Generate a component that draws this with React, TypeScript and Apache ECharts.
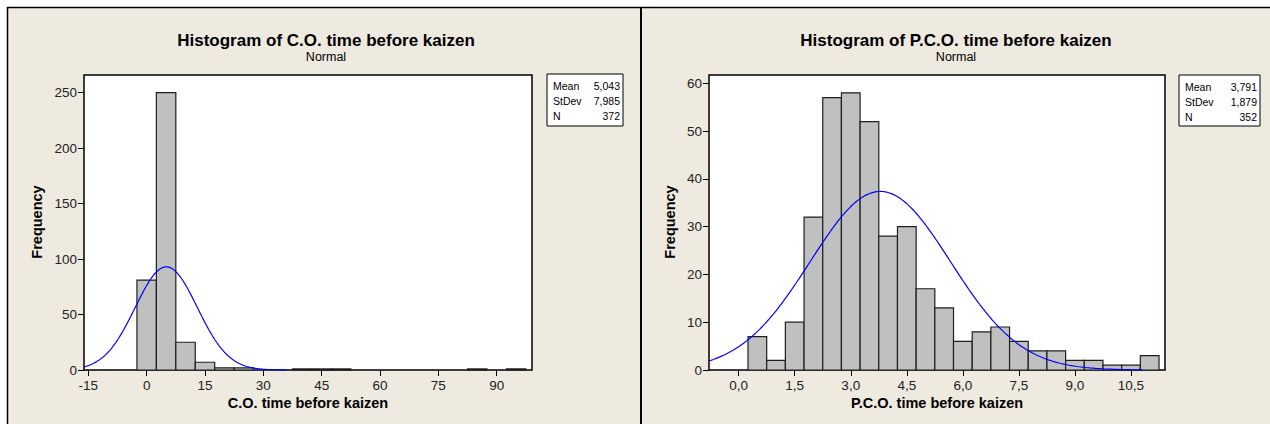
import React, { useEffect, useRef } from "react";
import * as echarts from "echarts";

const FONT = '"Liberation Sans", Arial, sans-serif';

// C.O. time before kaizen: bin midpoints (width 5) and frequencies
const coBinCenters = [0, 5, 10, 15, 20, 25, 40, 45, 50, 85, 95];
const coCounts = [81, 250, 25, 7, 2, 2, 1, 1, 1, 1, 1];
const coBinWidth = 5;
const coMean = 5.043;
const coStDev = 7.985;
const coN = 372;
const coXTicks = [-15, 0, 15, 30, 45, 60, 75, 90];
const coYTicks = [0, 50, 100, 150, 200, 250];

// P.C.O. time before kaizen: bin midpoints (width 0.5) and frequencies
const pcoBinCenters = [
  0.5, 1.0, 1.5, 2.0, 2.5, 3.0, 3.5, 4.0, 4.5, 5.0, 5.5,
  6.0, 6.5, 7.0, 7.5, 8.0, 8.5, 9.0, 9.5, 10.0, 10.5, 11.0,
];
const pcoCounts = [
  7, 2, 10, 32, 57, 58, 52, 28, 30, 17, 13,
  6, 8, 9, 6, 4, 4, 2, 2, 1, 1, 3,
];
const pcoBinWidth = 0.5;
const pcoMean = 3.791;
const pcoStDev = 1.879;
const pcoN = 352;
const pcoXTicks = [0, 1.5, 3, 4.5, 6, 7.5, 9, 10.5];
const pcoYTicks = [0, 10, 20, 30, 40, 50, 60];

const comma = (v: number, d: number) => v.toFixed(d).replace(".", ",");

// Fitted normal density scaled to counts per bin
function normalCurve(mean: number, sd: number, n: number, bw: number, x0: number, x1: number) {
  const pts: number[][] = [];
  const steps = 240;
  for (let i = 0; i <= steps; i++) {
    const x = x0 + ((x1 - x0) * i) / steps;
    const z = (x - mean) / sd;
    pts.push([x, (n * bw * Math.exp(-0.5 * z * z)) / (sd * Math.sqrt(2 * Math.PI))]);
  }
  return pts;
}

function binRects(centers: number[], counts: number[], bw: number) {
  return centers.map((c, i) => [c - bw / 2, c + bw / 2, counts[i]]);
}

const renderBar = (_params: any, api: any) => {
  const p0 = api.coord([api.value(0), api.value(2)]);
  const p1 = api.coord([api.value(1), 0]);
  return {
    type: "rect",
    shape: { x: p0[0], y: p0[1], width: p1[0] - p0[0], height: p1[1] - p0[1] },
    style: { fill: "#c0c0c0", stroke: "#1e1e1e", lineWidth: 1.2 },
  };
};

function makeXAxis(gridIndex: number, min: number, max: number, ticks: number[], fmt: (v: number) => string) {
  return {
    gridIndex,
    type: "value",
    position: "bottom",
    min,
    max,
    axisLine: { show: false, onZero: false },
    splitLine: { show: false },
    axisTick: { show: true, customValues: ticks, length: 6, lineStyle: { color: "#000", width: 1 } },
    axisLabel: { customValues: ticks, margin: 8, fontSize: 13.5, color: "#222", fontFamily: FONT, formatter: fmt },
  };
}

function makeYAxis(gridIndex: number, max: number, ticks: number[]) {
  return {
    gridIndex,
    type: "value",
    position: "left",
    min: 0,
    max,
    axisLine: { show: false, onZero: false },
    splitLine: { show: false },
    axisTick: { show: true, customValues: ticks, length: 6, lineStyle: { color: "#000", width: 1 } },
    axisLabel: { customValues: ticks, margin: 7, fontSize: 13.5, color: "#222", fontFamily: FONT },
  };
}

function txt(x: number, y: number, text: string, font: string, align = "center", rotation = 0) {
  return {
    type: "text",
    x,
    y,
    rotation,
    silent: true,
    z: 10,
    style: {
      text,
      x: 0,
      y: 0,
      font,
      fill: "#000",
      align,
      verticalAlign: "middle",
      textAlign: align,
      textVerticalAlign: "middle",
    },
  };
}

function statsBox(x: number, y: number, w: number, h: number, mean: string, sd: string, n: string) {
  const f = `10.5px ${FONT}`;
  const lx = x + 6;
  const rx = x + w - 3;
  return [
    { type: "rect", silent: true, z: 9, shape: { x, y, width: w, height: h }, style: { fill: "#fff", stroke: "#000", lineWidth: 1 } },
    txt(lx, y + 12, "Mean", f, "left"),
    txt(rx, y + 12, mean, f, "right"),
    txt(lx, y + 27, "StDev", f, "left"),
    txt(rx, y + 27, sd, f, "right"),
    txt(lx, y + 42, "N", f, "left"),
    txt(rx, y + 42, n, f, "right"),
  ];
}

export default function App() {
  const ref = useRef<HTMLDivElement>(null);

  useEffect(() => {
    if (!ref.current) return;
    const chart = echarts.init(ref.current, null, { renderer: "svg" });

    const titleFont = `bold 17px ${FONT}`;
    const subFont = `12.5px ${FONT}`;
    const axisTitleFont = `bold 14.5px ${FONT}`;

    const option: any = {
      animation: false,
      backgroundColor: "#ffffff",
      grid: [
        { left: 84, top: 75, width: 448, height: 295, show: true, backgroundColor: "#fff", borderColor: "#000", borderWidth: 1.5 },
        { left: 709, top: 75, width: 456, height: 295, show: true, backgroundColor: "#fff", borderColor: "#000", borderWidth: 1.5 },
      ],
      xAxis: [
        makeXAxis(0, -16.11, 99.08, coXTicks, (v: number) => String(v)),
        makeXAxis(1, -0.794, 11.41, pcoXTicks, (v: number) => comma(v, 1)),
      ],
      yAxis: [makeYAxis(0, 265.8, coYTicks), makeYAxis(1, 61.74, pcoYTicks)],
      series: [
        {
          type: "custom",
          xAxisIndex: 0,
          yAxisIndex: 0,
          renderItem: renderBar,
          encode: { x: [0, 1], y: 2 },
          data: binRects(coBinCenters, coCounts, coBinWidth),
          z: 2,
        },
        {
          type: "line",
          xAxisIndex: 0,
          yAxisIndex: 0,
          showSymbol: false,
          symbol: "none",
          data: normalCurve(coMean, coStDev, coN, coBinWidth, -16.11, 36),
          lineStyle: { color: "#0000ff", width: 1.2 },
          z: 3,
        },
        {
          type: "custom",
          xAxisIndex: 1,
          yAxisIndex: 1,
          renderItem: renderBar,
          encode: { x: [0, 1], y: 2 },
          data: binRects(pcoBinCenters, pcoCounts, pcoBinWidth),
          z: 2,
        },
        {
          type: "line",
          xAxisIndex: 1,
          yAxisIndex: 1,
          showSymbol: false,
          symbol: "none",
          data: normalCurve(pcoMean, pcoStDev, pcoN, pcoBinWidth, -0.794, 10.8),
          lineStyle: { color: "#0000ff", width: 1.2 },
          z: 3,
        },
      ],
      graphic: [
        // panel background and frame
        { type: "rect", silent: true, z: -10, shape: { x: 7, y: 7, width: 1263, height: 417 }, style: { fill: "#eeeae0" } },
        { type: "line", silent: true, z: 10, shape: { x1: 7, y1: 7.5, x2: 1270, y2: 7.5 }, style: { stroke: "#000", lineWidth: 1.5 } },
        { type: "line", silent: true, z: 10, shape: { x1: 7.5, y1: 7, x2: 7.5, y2: 424 }, style: { stroke: "#000", lineWidth: 1.5 } },
        { type: "line", silent: true, z: 10, shape: { x1: 641, y1: 7, x2: 641, y2: 424 }, style: { stroke: "#000", lineWidth: 2 } },

        txt(326, 40, "Histogram of C.O. time before kaizen", titleFont),
        txt(326, 57, "Normal", subFont),
        txt(308, 403, "C.O. time before kaizen", axisTitleFont),
        txt(37, 222, "Frequency", axisTitleFont, "center", Math.PI / 2),
        ...statsBox(547, 74, 76, 52, comma(coMean, 3), comma(coStDev, 3), String(coN)),

        txt(956, 40, "Histogram of P.C.O. time before kaizen", titleFont),
        txt(956, 57, "Normal", subFont),
        txt(937, 403, "P.C.O. time before kaizen", axisTitleFont),
        txt(670, 222, "Frequency", axisTitleFont, "center", Math.PI / 2),
        ...statsBox(1179, 75, 81, 51, comma(pcoMean, 3), comma(pcoStDev, 3), String(pcoN)),
      ],
    };

    chart.setOption(option);
    return () => chart.dispose();
  }, []);

  return (
    <div
      ref={ref}
      style={{ position: "fixed", left: 0, top: 0, width: 1270, height: 424 }}
    />
  );
}
